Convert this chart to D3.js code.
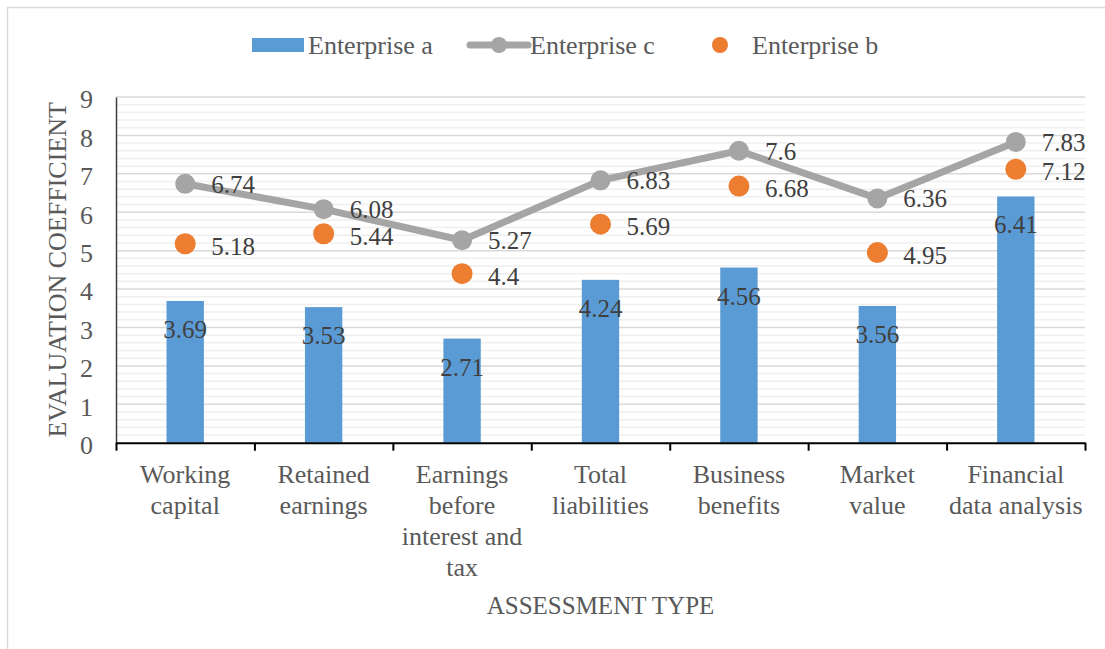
<!DOCTYPE html>
<html>
<head>
<meta charset="utf-8">
<script src="https://cdn.jsdelivr.net/npm/d3@7"></script>
<style>
  body { margin: 0; background: #fff; }
  text { font-family: "Liberation Serif", "Times New Roman", serif; }
</style>
</head>
<body>
<div id="chart"></div>
<script>
var categories = ['Working capital', 'Retained earnings', 'Earnings before interest and tax',
  'Total liabilities', 'Business benefits', 'Market value', 'Financial data analysis'];
var tickLabels = [['Working', 'capital'], ['Retained', 'earnings'], ['Earnings', 'before', 'interest and', 'tax'],
  ['Total', 'liabilities'], ['Business', 'benefits'], ['Market', 'value'], ['Financial', 'data analysis']];
var enterpriseA = [3.69, 3.53, 2.71, 4.24, 4.56, 3.56, 6.41];
var enterpriseB = [5.18, 5.44, 4.4, 5.69, 6.68, 4.95, 7.12];
var enterpriseC = [6.74, 6.08, 5.27, 6.83, 7.6, 6.36, 7.83];
var yTicks = [0, 1, 2, 3, 4, 5, 6, 7, 8, 9];

var width = 1105,
    height = 649;

var margin = {left: 116, right: 20, top: 97, bottom: 206};

var blue = '#5b9bd5', gray = '#a5a5a5', orange = '#ed7d31';

var svg = d3.select('#chart').append('svg')
  .attr('width', width)
  .attr('height', height);

// outer chart border
svg.append('rect')
  .attr('x', 7.5).attr('y', 7.5)
  .attr('width', width + 20).attr('height', height + 20)
  .attr('fill', 'none')
  .attr('stroke', '#d9d9d9')
  .attr('stroke-width', 1.5);

var x = d3.scaleBand()
  .domain(categories)
  .range([margin.left, width - margin.right])
  .padding(0);

var xb = d3.scaleLinear()
  .domain([0, categories.length])
  .range([margin.left, width - margin.right]);

var y = d3.scaleLinear()
  .domain([0, 9])
  .range([height - margin.bottom - 0.3, margin.top]);

// minor gridlines
svg.append('g')
  .selectAll('line')
  .data(d3.range(0, 45).map(function(i) { return i / 5; }).filter(function(v) { return v % 1 !== 0; }))
  .enter().append('line')
  .attr('x1', margin.left).attr('x2', width - margin.right)
  .attr('y1', function(d) { return y(d); }).attr('y2', function(d) { return y(d); })
  .attr('stroke', '#efefef')
  .attr('stroke-width', 1.5);

// major gridlines
svg.append('g')
  .selectAll('line')
  .data(yTicks.slice(1))
  .enter().append('line')
  .attr('x1', margin.left).attr('x2', width - margin.right)
  .attr('y1', function(d) { return y(d); }).attr('y2', function(d) { return y(d); })
  .attr('stroke', '#d9d9d9')
  .attr('stroke-width', 1.5);

// y axis
var yAxis = svg.append('g')
  .attr('transform', 'translate(' + margin.left + ',0)')
  .call(d3.axisLeft(y).tickValues(yTicks).tickSize(0).tickPadding(23).tickFormat(d3.format('d')));
yAxis.select('.domain').attr('stroke', '#404040').attr('stroke-width', 1.5);
yAxis.selectAll('text')
  .attr('font-size', 26)
  .attr('fill', '#595959')
  .attr('dy', '0.42em');

// bars
var barW = x.bandwidth() * 0.27;
svg.append('g')
  .selectAll('rect')
  .data(enterpriseA)
  .enter().append('rect')
  .attr('x', function(d, i) { return x(categories[i]) + x.bandwidth() / 2 - barW / 2; })
  .attr('y', function(d) { return y(d); })
  .attr('width', barW)
  .attr('height', function(d) { return y(0) - y(d); })
  .attr('fill', blue);

// x axis
var xAxis = svg.append('g')
  .attr('transform', 'translate(0,' + y(0) + ')')
  .call(d3.axisBottom(xb).tickValues(d3.range(categories.length + 1)).tickSize(8).tickSizeOuter(0).tickFormat(''));
xAxis.select('.domain').attr('stroke', '#000').attr('stroke-width', 2);
xAxis.selectAll('.tick line').attr('stroke', '#000').attr('stroke-width', 2);

// category labels
svg.append('g')
  .selectAll('text')
  .data(tickLabels)
  .enter().append('text')
  .attr('x', function(d, i) { return x(categories[i]) + x.bandwidth() / 2; })
  .attr('y', 483)
  .attr('text-anchor', 'middle')
  .attr('font-size', 26)
  .attr('fill', '#595959')
  .each(function(lines) {
    var t = d3.select(this), cx = t.attr('x');
    lines.forEach(function(l, k) {
      t.append('tspan').attr('x', cx).attr('dy', k === 0 ? 0 : 31).text(l);
    });
  });

// line series (Enterprise c)
var line = d3.line()
  .x(function(d, i) { return x(categories[i]) + x.bandwidth() / 2; })
  .y(function(d) { return y(d); });

svg.append('path')
  .datum(enterpriseC)
  .attr('d', line)
  .attr('fill', 'none')
  .attr('stroke', gray)
  .attr('stroke-width', 7)
  .attr('stroke-linejoin', 'round');

svg.append('g')
  .selectAll('circle')
  .data(enterpriseC)
  .enter().append('circle')
  .attr('cx', function(d, i) { return x(categories[i]) + x.bandwidth() / 2; })
  .attr('cy', function(d) { return y(d); })
  .attr('r', 10)
  .attr('fill', gray);

// scatter series (Enterprise b)
svg.append('g')
  .selectAll('circle')
  .data(enterpriseB)
  .enter().append('circle')
  .attr('cx', function(d, i) { return x(categories[i]) + x.bandwidth() / 2; })
  .attr('cy', function(d) { return y(d); })
  .attr('r', 10.5)
  .attr('fill', orange);

// data labels
function rightLabels(values, dy) {
  svg.append('g')
    .selectAll('text')
    .data(values)
    .enter().append('text')
    .attr('x', function(d, i) { return x(categories[i]) + x.bandwidth() / 2 + 26; })
    .attr('y', function(d) { return y(d) + dy; })
    .attr('font-size', 25)
    .attr('fill', '#404040')
    .text(function(d) { return d; });
}
rightLabels(enterpriseC, 9);
rightLabels(enterpriseB, 11);

svg.append('g')
  .selectAll('text')
  .data(enterpriseA)
  .enter().append('text')
  .attr('x', function(d, i) { return x(categories[i]) + x.bandwidth() / 2; })
  .attr('y', function(d) { return y(d) + 37; })
  .attr('text-anchor', 'middle')
  .attr('font-size', 25)
  .attr('fill', '#404040')
  .text(function(d) { return d; });

// axis titles
svg.append('text')
  .attr('transform', 'translate(66,' + (margin.top + y(0)) / 2 + ') rotate(-90)')
  .attr('text-anchor', 'middle')
  .attr('font-size', 26)
  .attr('fill', '#595959')
  .text('EVALUATION COEFFICIENT');

svg.append('text')
  .attr('x', (margin.left + width - margin.right) / 2)
  .attr('y', 614)
  .attr('text-anchor', 'middle')
  .attr('font-size', 25)
  .attr('fill', '#595959')
  .text('ASSESSMENT TYPE');

// legend
var legend = svg.append('g').attr('transform', 'translate(0,45)');
legend.append('rect')
  .attr('x', 252).attr('y', -7).attr('width', 52).attr('height', 14)
  .attr('fill', blue);
legend.append('text').attr('x', 308).attr('y', 9).text('Enterprise a');
legend.append('line')
  .attr('x1', 470).attr('x2', 528).attr('y1', 0).attr('y2', 0)
  .attr('stroke', gray).attr('stroke-width', 7).attr('stroke-linecap', 'round');
legend.append('circle').attr('cx', 499).attr('cy', 0).attr('r', 8).attr('fill', gray);
legend.append('text').attr('x', 530).attr('y', 9).text('Enterprise c');
legend.append('circle').attr('cx', 720).attr('cy', 0).attr('r', 8).attr('fill', orange);
legend.append('text').attr('x', 752).attr('y', 9).text('Enterprise b');
legend.selectAll('text').attr('font-size', 26).attr('fill', '#595959');
</script>
</body>
</html>
